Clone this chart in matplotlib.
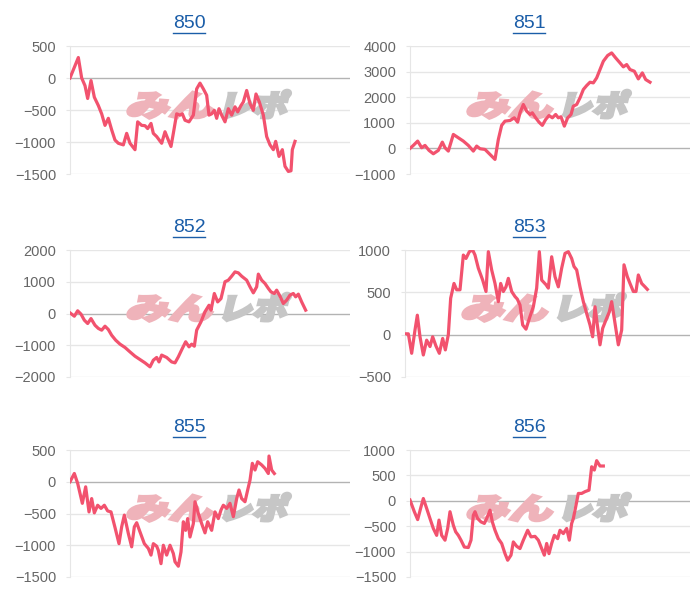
import matplotlib
matplotlib.use("Agg")
import matplotlib.pyplot as plt
import matplotlib.transforms as mtransforms
from matplotlib.lines import Line2D
from matplotlib.patches import PathPatch
from matplotlib.textpath import TextPath
from matplotlib.font_manager import FontProperties

# machine numbers
machines = ["850", "851", "852", "853", "855", "856"]

# games played (x) and medal difference (y)
games_850 = [0, 250, 350, 450, 530, 630, 730, 850, 950, 1050, 1150, 1250, 1350, 1450, 1600, 1700, 1800, 1950,
             2030, 2150, 2250, 2330, 2430, 2500, 2600, 2750, 2850, 2950, 3030, 3100, 3200, 3300, 3370, 3450,
             3570, 3700, 3800, 3900, 4000, 4100, 4170, 4250, 4330, 4400, 4470, 4550, 4650, 4750, 4850, 4950,
             5030, 5130, 5200, 5300, 5400, 5500, 5580, 5680, 5800, 5900, 6000, 6100, 6170, 6270, 6370, 6450,
             6550, 6630, 6670, 6750]
diff_850 = [0, 320, 0, -120, -320, -40, -300, -430, -560, -740, -630, -810, -970, -1020, -1045, -865, -1020,
            -1120, -685, -740, -745, -790, -710, -865, -915, -1020, -840, -970, -1070, -865, -560, -580, -560,
            -660, -685, -580, -170, -80, -170, -270, -580, -560, -505, -630, -480, -580, -685, -480, -580, -450,
            -530, -430, -375, -195, -400, -505, -250, -375, -580, -915, -1045, -1120, -990, -1225, -1120, -1380,
            -1460, -1450, -1120, -990]

games_851 = [0, 100, 230, 350, 450, 570, 700, 850, 970, 1050, 1150, 1300, 1450, 1600, 1750, 1900, 2000, 2100,
             2250, 2400, 2550, 2650, 2750, 2850, 3000, 3130, 3230, 3300, 3400, 3500, 3600, 3670, 3770, 3870,
             3970, 4070, 4170, 4270, 4370, 4450, 4530, 4630, 4730, 4830, 4900, 5000, 5100, 5200, 5300, 5400,
             5500, 5600, 5700, 5800, 5930, 6050, 6170, 6300, 6400, 6500, 6600, 6730, 6850, 6970, 7070, 7200]
diff_851 = [0, 117, 285, 26, 117, -78, -210, -78, 245, 26, -105, 545, 415, 285, 117, -105, 90, -13, -40, -235,
            -430, 350, 900, 1065, 1090, 1195, 1025, 1390, 1715, 1455, 1325, 1390, 1195, 1025, 900, 1130, 1285,
            1195, 1325, 1195, 1235, 870, 1195, 1325, 1650, 1715, 1975, 2300, 2455, 2585, 2560, 2755, 3080, 3405,
            3630, 3730, 3535, 3340, 3185, 3275, 3080, 3015, 2715, 2950, 2690, 2585]

games_852 = [0, 130, 230, 330, 430, 530, 630, 750, 850, 950, 1050, 1150, 1250, 1370, 1500, 1650, 1800, 1950,
             2100, 2250, 2400, 2500, 2600, 2670, 2750, 2900, 3050, 3150, 3250, 3370, 3470, 3570, 3650, 3730,
             3800, 3930, 4050, 4170, 4230, 4330, 4430, 4530, 4650, 4750, 4850, 4950, 5050, 5150, 5300, 5400,
             5500, 5600, 5650, 5750, 5850, 5950, 6030, 6130, 6200, 6300, 6400, 6500, 6600, 6700, 6770, 6850,
             6950, 7070]
diff_852 = [20, -85, 85, -20, -210, -315, -160, -370, -470, -525, -400, -505, -685, -840, -965, -1070, -1210,
            -1345, -1450, -1555, -1680, -1470, -1385, -1525, -1310, -1385, -1525, -1555, -1365, -1100, -890,
            -1050, -965, -1030, -525, -260, 55, 260, 105, 630, 365, 470, 1000, 1050, 1175, 1310, 1280, 1175,
            1050, 840, 650, 840, 1240, 1050, 945, 790, 680, 630, 735, 545, 315, 420, 580, 630, 525, 610, 365, 105]

games_853 = [0, 100, 200, 300, 370, 450, 550, 650, 750, 830, 930, 1030, 1130, 1210, 1300, 1370, 1470, 1550,
             1650, 1750, 1830, 1930, 2030, 2100, 2200, 2330, 2430, 2500, 2600, 2700, 2800, 2870, 2950, 3030,
             3100, 3200, 3300, 3370, 3450, 3530, 3630, 3750, 3850, 3950, 4030, 4100, 4230, 4300, 4400, 4500,
             4600, 4700, 4800, 4900, 5000, 5070, 5150, 5250, 5350, 5450, 5550, 5630, 5700, 5770, 5850, 5930,
             6030, 6130, 6200, 6300, 6400, 6500, 6570, 6670, 6750, 6850, 6930, 7000, 7100, 7200, 7270]
diff_853 = [10, 10, -220, 55, 230, -25, -240, -65, -140, -25, -135, -220, -45, -180, 0, 430, 605, 530, 530, 940,
            900, 980, 1000, 940, 785, 645, 510, 980, 765, 605, 390, 605, 510, 565, 665, 510, 450, 420, 350, 115,
            65, 215, 330, 550, 980, 645, 590, 550, 920, 685, 565, 785, 960, 980, 900, 805, 765, 565, 390, 250,
            115, -25, 330, 115, -120, 75, 175, 270, 390, 135, -120, 55, 825, 685, 605, 510, 510, 705, 605, 565, 535]

games_855 = [0, 130, 230, 370, 470, 570, 650, 730, 830, 930, 1030, 1130, 1230, 1350, 1470, 1550, 1630, 1750,
             1850, 1930, 2000, 2100, 2230, 2350, 2430, 2500, 2600, 2650, 2730, 2800, 2900, 3000, 3100, 3150,
             3250, 3330, 3400, 3470, 3530, 3600, 3700, 3750, 3850, 3950, 4050, 4130, 4250, 4350, 4450, 4530,
             4600, 4700, 4800, 4900, 5000, 5070, 5150, 5250, 5330, 5400, 5470, 5550, 5630, 5750, 5850, 5950,
             5970, 6050, 6130]
diff_855 = [0, 130, -25, -340, -80, -475, -265, -490, -370, -420, -370, -460, -475, -720, -975, -710, -525, -815,
            -1025, -710, -645, -790, -975, -1050, -1155, -975, -1015, -1080, -1290, -1000, -1155, -1000, -1130,
            -1260, -1330, -1105, -630, -765, -580, -870, -660, -315, -500, -660, -805, -630, -765, -475, -580,
            -445, -370, -420, -340, -550, -265, -130, -265, -315, -130, 25, 290, 185, 315, 265, 210, 130, 405,
            185, 130]

games_856 = [0, 130, 230, 330, 400, 500, 600, 700, 800, 870, 950, 1050, 1130, 1200, 1300, 1370, 1450, 1530,
             1630, 1750, 1830, 1900, 1950, 2030, 2130, 2230, 2300, 2400, 2470, 2550, 2650, 2750, 2850, 2930,
             3030, 3100, 3200, 3300, 3400, 3530, 3630, 3750, 3850, 3950, 4030, 4100, 4170, 4250, 4330, 4430,
             4500, 4600, 4700, 4780, 4850, 4900, 4970, 5050, 5150, 5250, 5370, 5450, 5530, 5600, 5700, 5800]
diff_856 = [15, -215, -370, -120, 45, -150, -350, -545, -680, -380, -680, -775, -545, -215, -480, -610, -680,
            -775, -910, -920, -775, -285, -215, -350, -415, -445, -350, -185, -415, -580, -745, -840, -1040,
            -1170, -1070, -810, -895, -940, -775, -580, -710, -700, -775, -940, -1070, -840, -1040, -840, -680,
            -745, -580, -645, -545, -775, -445, -350, -120, 145, 145, 180, 210, 670, 605, 790, 685, 685]

games = [games_850, games_851, games_852, games_853, games_855, games_856]
diffs = [diff_850, diff_851, diff_852, diff_853, diff_855, diff_856]

# y ticks of each panel
yticks = [
    [-1500, -1000, -500, 0, 500],
    [-1000, 0, 1000, 2000, 3000, 4000],
    [-2000, -1000, 0, 1000, 2000],
    [-500, 0, 500, 1000],
    [-1500, -1000, -500, 0, 500],
    [-1500, -1000, -500, 0, 500, 1000],
]

# layout in pixels: axes left, top, width, height and title centre
W, H = 700, 600
rects = [(70, 46, 280, 128), (410, 46, 280, 128),
         (70, 250, 280, 127), (405, 250, 285, 127),
         (70, 450, 280, 127), (410, 450, 280, 127)]
title_pos = [(189, 23), (529, 23), (189, 227), (529, 227), (189, 427), (529, 427)]

line_color = "#f2526e"
grid_color = "#e6e6e6"
zero_color = "#b3b3b3"
label_color = "#666666"
title_color = "#1a5da8"

plt.rcParams["font.family"] = ["Liberation Sans", "DejaVu Sans"]
fig = plt.figure(figsize=(7, 6), dpi=100)
wm_font = FontProperties(family="Noto Sans CJK JP", weight="heavy")


def add_watermark(ax, left, bottom):
    # logo drawn behind the line, skewed like the site's stamp
    x0 = left + 55
    y0 = (H - bottom) + 58
    for txt, col, dx, sx in [("みん", "#efb3ba", 0, 1.4), ("レポ", "#c6c6c6", 92, 1.12)]:
        tp = TextPath((0, 0), txt, size=31, prop=wm_font)
        tr = mtransforms.Affine2D().scale(sx, 0.95).skew_deg(14, 0).translate(x0 + dx, y0)
        patch = PathPatch(tp, facecolor=col, edgecolor=col, linewidth=2.2, zorder=1)
        patch.set_transform(tr)
        ax.add_artist(patch)


for i, name in enumerate(machines):
    left, top, w, h = rects[i]
    ax = fig.add_axes([left / W, 1 - (top + h) / H, w / W, h / H])
    ax.plot(games[i], diffs[i], color=line_color, linewidth=2.3, zorder=3)
    ax.set_xlim(0, w * 30)
    ax.set_ylim(yticks[i][0], yticks[i][-1])
    ax.set_yticks(yticks[i])
    ax.set_xticks([])
    ax.tick_params(axis="y", length=3, color=grid_color, pad=7, labelsize=10.5, labelcolor=label_color)
    for s in ["top", "right", "bottom"]:
        ax.spines[s].set_visible(False)
    ax.spines["left"].set_color(grid_color)
    for t in yticks[i]:
        ax.axhline(t, color=zero_color if t == 0 else grid_color, linewidth=1, zorder=0)
    add_watermark(ax, left, top + h)

    # underlined link-style title
    tx, ty = title_pos[i]
    fig.text(tx / W, 1 - ty / H, name, ha="center", va="center", fontsize=14, color=title_color)
    fig.add_artist(Line2D([(tx - 16) / W, (tx + 16) / W], [1 - (ty + 10) / H] * 2,
                          color=title_color, linewidth=1))

fig.savefig("out.png", dpi=100)
